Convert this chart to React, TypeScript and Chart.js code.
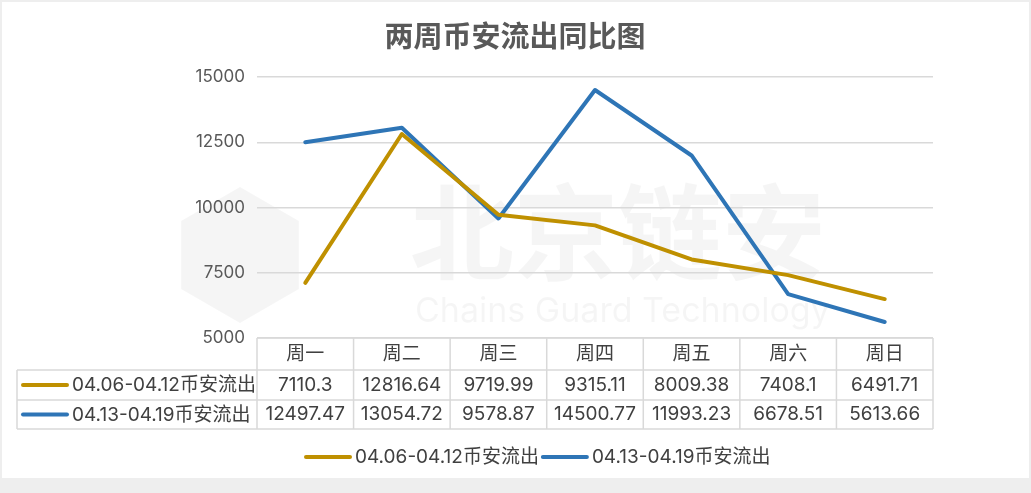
import React, { useEffect, useRef } from "react";
import { Chart, registerables } from "chart.js";

Chart.register(...registerables);

const title = "两周币安流出同比图";
const categories = ["周一", "周二", "周三", "周四", "周五", "周六", "周日"];
const seriesNames = ["04.06-04.12币安流出", "04.13-04.19币安流出"];
const seriesA = [7110.3, 12816.64, 9719.99, 9315.11, 8009.38, 7408.1, 6491.71];
const seriesB = [12497.47, 13054.72, 9578.87, 14500.77, 11993.23, 6678.51, 5613.66];
const tableA = ["7110.3", "12816.64", "9719.99", "9315.11", "8009.38", "7408.1", "6491.71"];
const tableB = ["12497.47", "13054.72", "9578.87", "14500.77", "11993.23", "6678.51", "5613.66"];
const colors = ["#BF9000", "#2E75B6"];

const FONT = 'Inter, "Noto Sans CJK SC", sans-serif';
const CJK = '"Noto Sans CJK SC", sans-serif';

const framePlugin = {
  id: "frame",
  beforeDraw(chart: any) {
    const { ctx, width, height } = chart;
    ctx.save();
    ctx.fillStyle = "#eeeeee";
    ctx.fillRect(0, 0, width, height);
    ctx.fillStyle = "#ffffff";
    ctx.fillRect(2, 2, 1027, 476);
    ctx.fillStyle = "rgba(0,0,0,0.04)";
    ctx.textAlign = "left";
    ctx.textBaseline = "middle";
    ctx.font = `bold 104px ${CJK}`;
    ctx.fillText("北京链安", 410, 232);
    ctx.font = `34px ${FONT}`;
    ctx.fillText("Chains Guard Technology", 415, 312);
    ctx.beginPath();
    const cx = 240, cy = 255, r = 68;
    for (let i = 0; i < 6; i++) {
      const a = Math.PI / 6 + (i * Math.PI) / 3;
      const px = cx + r * Math.cos(a), py = cy + r * Math.sin(a);
      if (i === 0) ctx.moveTo(px, py); else ctx.lineTo(px, py);
    }
    ctx.closePath();
    ctx.fill();
    ctx.fillStyle = "#595959";
    ctx.textAlign = "center";
    ctx.font = `bold 29px ${CJK}`;
    ctx.fillText(title, 515, 36);
    ctx.restore();
  },
  afterDraw(chart: any) {
    const { ctx, chartArea } = chart;
    const xs = chart.scales.x;
    const left = chartArea.left, right = chartArea.right;
    const n = categories.length;
    const cw = (right - left) / n;
    const tTop = chartArea.bottom;
    const r1 = tTop + 32, r2 = r1 + 30, r3 = r2 + 29;
    const tLeft = 17;
    ctx.save();
    ctx.strokeStyle = "#d9d9d9";
    ctx.lineWidth = 1.5;
    ctx.beginPath();
    ctx.moveTo(left, tTop); ctx.lineTo(right, tTop);
    ctx.moveTo(tLeft, r1); ctx.lineTo(right, r1);
    ctx.moveTo(tLeft, r2); ctx.lineTo(right, r2);
    ctx.moveTo(tLeft, r3); ctx.lineTo(right, r3);
    ctx.moveTo(tLeft, r1); ctx.lineTo(tLeft, r3);
    for (let i = 0; i <= n; i++) {
      const x = left + i * cw;
      ctx.moveTo(x, tTop); ctx.lineTo(x, r3);
    }
    ctx.stroke();

    ctx.fillStyle = "#404040";
    ctx.font = `19px ${FONT}`;
    ctx.textAlign = "center";
    ctx.textBaseline = "middle";
    categories.forEach((c, i) => {
      const x = xs.getPixelForValue(i);
      ctx.fillText(c, x, (tTop + r1) / 2);
      ctx.fillText(tableA[i], x, (r1 + r2) / 2);
      ctx.fillText(tableB[i], x, (r2 + r3) / 2);
    });
    const rows = [(r1 + r2) / 2, (r2 + r3) / 2];
    rows.forEach((y, k) => {
      ctx.strokeStyle = colors[k];
      ctx.lineWidth = 4;
      ctx.lineCap = "round";
      ctx.beginPath();
      ctx.moveTo(23, y); ctx.lineTo(67, y);
      ctx.stroke();
      ctx.textAlign = "left";
      ctx.fillStyle = "#404040";
      ctx.fillText(seriesNames[k], 72, y + 0.5);
    });
    const ly = 457;
    let x = 306;
    seriesNames.forEach((name, k) => {
      ctx.strokeStyle = colors[k];
      ctx.lineWidth = 4;
      ctx.lineCap = "round";
      ctx.beginPath();
      ctx.moveTo(x, ly); ctx.lineTo(x + 44, ly);
      ctx.stroke();
      ctx.fillStyle = "#404040";
      ctx.textAlign = "left";
      ctx.fillText(name, x + 49, ly + 0.5);
      x += 49 + ctx.measureText(name).width + 4;
    });
    ctx.restore();
  },
};

export default function App() {
  const ref = useRef<HTMLCanvasElement>(null);
  useEffect(() => {
    if (!ref.current) return;
    const chart = new Chart(ref.current, {
      type: "line",
      data: {
        labels: categories,
        datasets: [
          { label: seriesNames[0], data: seriesA, borderColor: colors[0], backgroundColor: colors[0], borderWidth: 4, pointRadius: 0, tension: 0, borderCapStyle: "round", borderJoinStyle: "round" },
          { label: seriesNames[1], data: seriesB, borderColor: colors[1], backgroundColor: colors[1], borderWidth: 4, pointRadius: 0, tension: 0, borderCapStyle: "round", borderJoinStyle: "round" },
        ],
      },
      options: {
        responsive: false,
        animation: false,
        devicePixelRatio: 1,
        layout: { padding: { left: 0, top: 77, right: 98, bottom: 155 } },
        plugins: { legend: { display: false }, title: { display: false }, tooltip: { enabled: false } },
        scales: {
          x: { type: "category", display: false, offset: true },
          y: {
            min: 5000,
            max: 15000,
            afterFit: (s: any) => { s.width = 257; },
            ticks: { stepSize: 2500, padding: 12, color: "#595959", font: { size: 17, family: FONT }, callback: (v: any) => String(v) },
            grid: { color: "#d9d9d9", lineWidth: 1.5, drawTicks: false },
            border: { display: false },
          },
        },
      },
      plugins: [framePlugin],
    } as any);
    return () => chart.destroy();
  }, []);
  return (
    <div style={{ position: "fixed", left: 0, top: 0 }}>
      <canvas ref={ref} width={1031} height={493} style={{ width: 1031, height: 493, display: "block" }} />
    </div>
  );
}
